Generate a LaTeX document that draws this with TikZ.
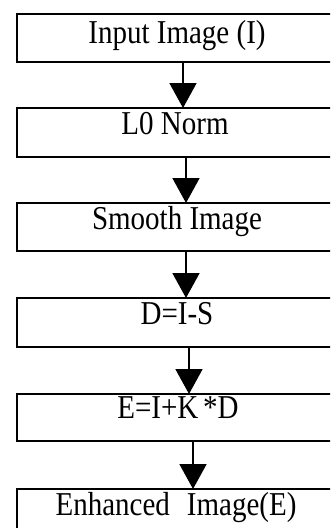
\documentclass[tikz,border=0pt]{standalone}
\usepackage{fontspec}
\setmainfont{Liberation Serif}
\usetikzlibrary{arrows.meta}
\begin{document}
\begin{tikzpicture}[x=1pt,y=-1pt,
  box/.style={draw,line width=1.8pt,minimum width=320pt,inner sep=0pt,outer sep=0pt},
  lbl/.style={anchor=base,inner sep=0pt,font=\fontsize{29}{32}\selectfont},
  arr/.style={line width=1.8pt,-{Triangle[width=27pt,length=25pt]}}]
\useasboundingbox (0,0) rectangle (330,528);
\clip (0,0) rectangle (330,528);
\node[box,minimum height=48pt] (b1) at (177,38) {};
\node[box,minimum height=49pt] (b2) at (177,132.5) {};
\node[box,minimum height=48pt] (b3) at (177,227) {};
\node[box,minimum height=49pt] (b4) at (177,322.5) {};
\node[box,minimum height=47pt] (b5) at (177,417.5) {};
\node[box,minimum height=48pt] (b6) at (177,513) {};
\node[lbl] (t1) at (177,43) {\scalebox{1}[1.15]{Input Image (I)}};
\node[lbl] (t2) at (175,134) {\scalebox{1}[1.15]{L0 Norm}};
\node[lbl] (t3) at (177,229) {\scalebox{1}[1.15]{Smooth Image}};
\node[lbl] (t4) at (177,324) {\scalebox{1}[1.15]{D=I-S}};
\node[lbl] (t5) at (178,418) {\scalebox{1}[1.15]{E=I+K\,*D}};
\node[lbl] (t6) at (176,515) {\scalebox{1}[1.15]{Enhanced\hspace{17pt}Image(E)}};
\draw[arr] ([xshift=6pt]b1.south) -- ([xshift=6pt]b2.north);
\draw[arr] ([xshift=9pt]b2.south) -- ([xshift=9pt]b3.north);
\draw[arr] ([xshift=9pt]b3.south) -- ([xshift=9pt]b4.north);
\draw[arr] ([xshift=12pt]b4.south) -- ([xshift=12pt]b5.north);
\draw[arr] ([xshift=16pt]b5.south) -- ([xshift=16pt]b6.north);
\end{tikzpicture}
\end{document}
